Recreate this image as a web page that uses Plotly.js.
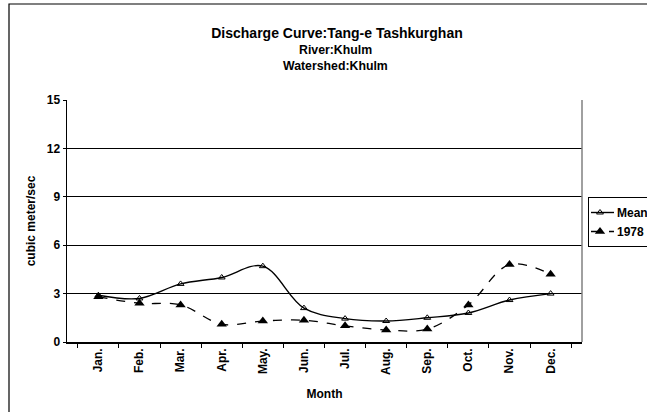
<!DOCTYPE html>
<html>
<head>
<meta charset="utf-8">
<script src="https://cdn.plot.ly/plotly-3.0.1.min.js"></script>
<style>
html,body{margin:0;padding:0;background:#fff;overflow:hidden;}
#wrap{width:647px;height:412px;overflow:hidden;}
#chart{width:720px;height:412px;}
</style>
</head>
<body>
<div id="wrap"><div id="chart"></div></div>
<script>
const months = ["Jan.","Feb.","Mar.","Apr.","May.","Jun.","Jul.","Aug.","Sep.","Oct.","Nov.","Dec."];
const meanValues = [2.9, 2.7, 3.6, 4.0, 4.7, 2.1, 1.45, 1.3, 1.5, 1.8, 2.6, 3.0];
const y1978Values = [2.8, 2.4, 2.3, 1.1, 1.3, 1.35, 1.0, 0.75, 0.8, 2.3, 4.8, 4.2];
const yTicks = [0, 3, 6, 9, 12, 15];
const titleLines = ["Discharge Curve:Tang-e Tashkurghan", "River:Khulm", "Watershed:Khulm"];

const FONT = "Liberation Sans, Arial, sans-serif";
const W = 720, H = 412;
const PL = 67, PR = 582, PT = 100, PB = 342;
const pw = PR - PL, ph = PB - PT;
const px = v => (v - PL) / pw;
const py = v => (PB - v) / ph;

const traces = [
  {
    x: months, y: meanValues, name: "Mean", type: "scatter", mode: "lines+markers",
    line: {color: "#000", width: 1.4, shape: "spline", smoothing: 1},
    marker: {symbol: "triangle-up-open", size: 6, color: "#000", line: {width: 1, color: "#000"}}
  },
  {
    x: months, y: y1978Values, name: "1978", type: "scatter", mode: "lines+markers",
    line: {color: "#000", width: 1.3, dash: "dash", shape: "spline", smoothing: 1},
    marker: {symbol: "triangle-up", size: 9, color: "#000"}
  }
];

const boldFont = (s) => ({family: FONT, size: s, color: "#000", weight: "bold"});

const layout = {
  width: W, height: H,
  margin: {l: PL, r: W - PR, t: PT, b: H - PB, pad: 0},
  paper_bgcolor: "#fff", plot_bgcolor: "#fff",
  font: boldFont(12),
  title: {
    text: titleLines[0],
    font: boldFont(14),
    x: px(337), xanchor: "center", xref: "paper",
    y: 1 - 33/H, yanchor: "middle", yref: "container"
  },
  annotations: [
    {text: titleLines[1], xref: "paper", yref: "paper", x: px(335), y: py(50), xanchor: "center", yanchor: "middle", showarrow: false, font: boldFont(12.3)},
    {text: titleLines[2], xref: "paper", yref: "paper", x: px(335), y: py(66), xanchor: "center", yanchor: "middle", showarrow: false, font: boldFont(12.3)}
  ],
  showlegend: true,
  legend: {
    x: px(588), xanchor: "left", y: py(197), yanchor: "top",
    bgcolor: "#fff", bordercolor: "#000", borderwidth: 1,
    font: boldFont(12),
    itemwidth: 30, tracegroupgap: 0
  },
  xaxis: {
    type: "category", categoryorder: "array", categoryarray: months,
    tickangle: -90, ticks: "outside", tickson: "boundaries", ticklen: 4, tickwidth: 1, tickcolor: "#000",
    showline: true, linecolor: "#000", linewidth: 1.5, showgrid: false, zeroline: false,
    tickfont: boldFont(12),
    title: {text: "Month", font: boldFont(12), standoff: 15},
    automargin: false
  },
  yaxis: {
    range: [0, 15], tickvals: yTicks, ticktext: yTicks.map(String),
    ticks: "outside", ticklen: 3, tickwidth: 1, tickcolor: "#000",
    showline: true, linecolor: "#000", linewidth: 1.5,
    showgrid: true, gridcolor: "#000", gridwidth: 1, zeroline: false,
    tickfont: boldFont(12),
    title: {text: "cubic meter/sec", font: boldFont(12), standoff: 8},
    automargin: false
  },
  shapes: [
    {type: "line", xref: "paper", yref: "paper", x0: 1, x1: 1, y0: 0, y1: 1, line: {color: "#808080", width: 1.5}},
    {type: "rect", xref: "paper", yref: "paper", x0: px(9), x1: px(715), y0: py(440), y1: py(4), line: {color: "#000", width: 1.2}, fillcolor: "rgba(0,0,0,0)", layer: "below"}
  ]
};

Plotly.newPlot("chart", traces, layout, {displayModeBar: false, staticPlot: true}).then(gd => {
  // compact the legend samples like the original (shorter line sample, text closer)
  gd.querySelectorAll(".legend .traces").forEach(t => {
    const txt = t.querySelector(".legendtext");
    if (txt) txt.setAttribute("x", (+txt.getAttribute("x")) - 12);
    t.querySelectorAll(".legendlines path").forEach(p => p.setAttribute("d", "M2,0h23"));
    t.querySelectorAll(".legendsymbols path").forEach(p => p.setAttribute("transform", "translate(11,0)"));
  });
});
</script>
</body>
</html>
